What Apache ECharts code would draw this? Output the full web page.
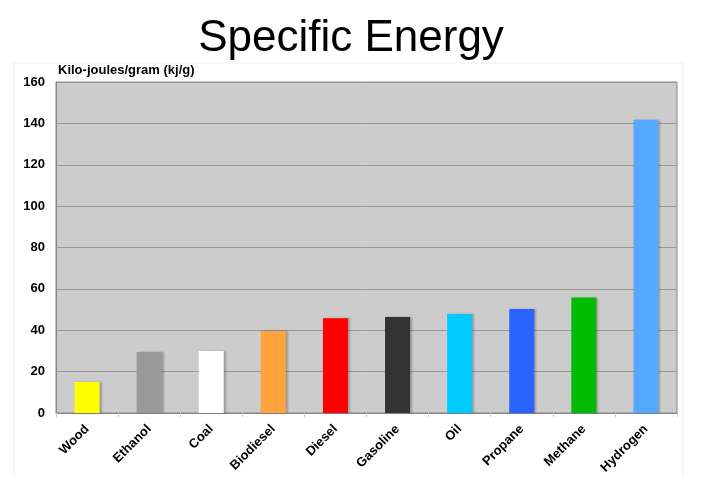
<!DOCTYPE html>
<html>
<head>
<meta charset="utf-8">
<script src="https://cdn.jsdelivr.net/npm/echarts@6/dist/echarts.min.js"></script>
<style>
  html, body { margin: 0; padding: 0; background: #fff; }
  #chart { width: 702px; height: 477px; }
</style>
</head>
<body>
<div id="chart"></div>
<script>
// 燃料种类
const fuels = ['Wood', 'Ethanol', 'Coal', 'Biodiesel', 'Diesel', 'Gasoline', 'Oil', 'Propane', 'Methane', 'Hydrogen'];
// 比能量 (kj/g)
const energy = [15, 29.5, 30, 39.5, 45.8, 46.4, 47.8, 50.3, 55.8, 141.8];
// 柱子颜色
const barColors = ['#ffff00', '#999999', '#ffffff', '#ffa33a', '#ff0000', '#333333', '#00ccff', '#2b63ff', '#00bb00', '#55aaff'];

const chart = echarts.init(document.getElementById('chart'));

chart.setOption({
  animation: false,
  backgroundColor: '#ffffff',
  title: {
    text: 'Specific Energy',
    left: 'center',
    top: 12,
    textStyle: {
      fontFamily: 'Liberation Sans, Arial, sans-serif',
      fontSize: 44,
      fontWeight: 'normal',
      color: '#000'
    }
  },
  graphic: [
    {
      // 外框（很淡）
      type: 'rect',
      shape: { x: 14, y: 63, width: 669, height: 420 },
      style: { fill: 'none', stroke: '#eeeeee', lineWidth: 1 },
      silent: true
    }
  ],
  grid: {
    left: 56,
    right: 25,
    top: 82,
    bottom: 64,
    show: true,
    backgroundColor: '#cccccc',
    borderColor: '#888888',
    borderWidth: 1
  },
  xAxis: {
    type: 'category',
    data: fuels,
    axisLine: { lineStyle: { color: '#888888', width: 1 } },
    axisTick: { show: true, length: 4, lineStyle: { color: '#cccccc' } },
    axisLabel: {
      rotate: 45,
      interval: 0,
      margin: 14,
      color: '#000',
      fontFamily: 'Liberation Sans, Arial, sans-serif',
      fontWeight: 'bold',
      fontSize: 13
    }
  },
  yAxis: {
    type: 'value',
    min: 0,
    max: 160,
    interval: 20,
    name: 'Kilo-joules/gram (kj/g)',
    nameLocation: 'end',
    nameGap: 5,
    nameTextStyle: {
      align: 'left',
      color: '#000',
      fontFamily: 'Liberation Sans, Arial, sans-serif',
      fontWeight: 'bold',
      fontSize: 13,
      padding: [0, 0, 0, 2]
    },
    axisLine: { show: true, lineStyle: { color: '#888888' } },
    axisTick: { show: false },
    splitLine: { lineStyle: { color: '#999999', width: 1 } },
    axisLabel: {
      margin: 11,
      color: '#000',
      fontFamily: 'Liberation Sans, Arial, sans-serif',
      fontWeight: 'bold',
      fontSize: 13
    }
  },
  series: [
    {
      type: 'bar',
      data: energy.map((v, i) => ({
        value: v,
        itemStyle: { color: barColors[i] }
      })),
      barWidth: 25,
      itemStyle: {
        shadowColor: 'rgba(0,0,0,0.25)',
        shadowBlur: 2,
        shadowOffsetX: 2,
        shadowOffsetY: 0
      }
    }
  ]
});
</script>
</body>
</html>
